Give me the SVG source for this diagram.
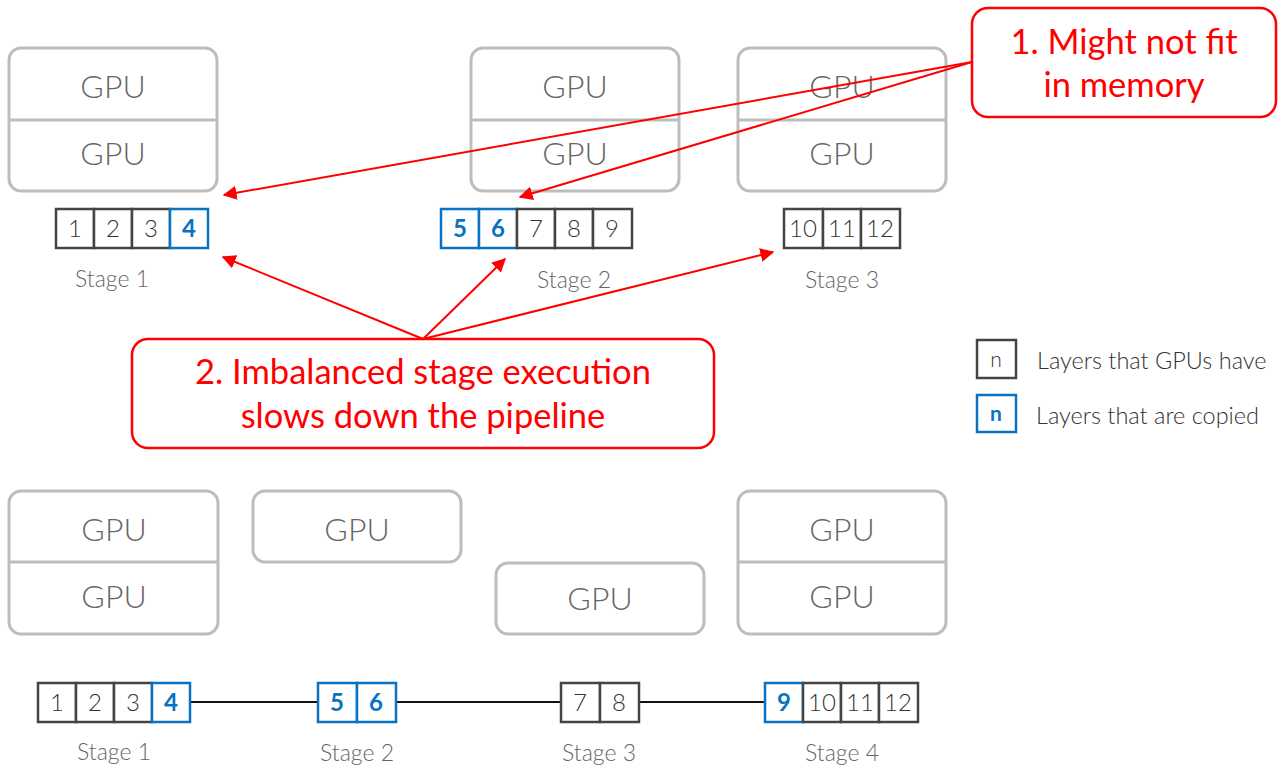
<svg xmlns="http://www.w3.org/2000/svg" width="1278" height="768" viewBox="0 0 1278 768">
  <style>
    .gpu { fill: #fff; stroke: #bdbdbd; stroke-width: 3; }
    .div { stroke: #bdbdbd; stroke-width: 3; }
    .gt { font-family: Lato, "Liberation Sans", sans-serif; font-size: 32px; fill: #666; text-anchor: middle; font-weight: 300; }
    .cell { fill: #fff; stroke: #444; stroke-width: 2.5; }
    .bcell { fill: #fff; stroke: #0a72c2; stroke-width: 2.5; }
    .n { font-family: Lato, "Liberation Sans", sans-serif; font-size: 24px; fill: #333; text-anchor: middle; font-weight: 300; }
    .bn { font-family: Lato, "Liberation Sans", sans-serif; font-size: 24px; fill: #0a72c2; text-anchor: middle; font-weight: 700; }
    .st { font-family: Lato, "Liberation Sans", sans-serif; font-size: 23px; fill: #666; text-anchor: middle; font-weight: 300; }
    .lg { font-family: Lato, "Liberation Sans", sans-serif; font-size: 23.5px; fill: #333; font-weight: 300; }
    .co { fill: #fff; stroke: #ff0000; stroke-width: 2.5; }
    .ct { font-family: Lato, "Liberation Sans", sans-serif; font-size: 34.5px; fill: #ff0000; text-anchor: middle; }
    .ar { stroke: #ff0000; stroke-width: 2; fill: none; marker-end: url(#ah); }
    .ln { stroke: #111; stroke-width: 2; }
  </style>
  <defs>
    <marker id="ah" viewBox="0 0 10 10" refX="9" refY="5" markerWidth="7" markerHeight="7" markerUnits="strokeWidth" orient="auto">
      <path d="M0,0 L10,5 L0,10 z" fill="#ff0000"/>
    </marker>
  </defs>

  <!-- top row: GPU groups -->
  <g id="top-gpu-1">
    <rect class="gpu" x="9" y="48" width="208" height="143" rx="12"/>
    <line class="div" x1="9" y1="120" x2="217" y2="120"/>
    <text class="gt" x="113" y="98">GPU</text>
    <text class="gt" x="113" y="165">GPU</text>
  </g>
  <g id="top-gpu-2">
    <rect class="gpu" x="471" y="48" width="208" height="143" rx="12"/>
    <line class="div" x1="471" y1="120" x2="679" y2="120"/>
    <text class="gt" x="575" y="98">GPU</text>
    <text class="gt" x="575" y="165">GPU</text>
  </g>
  <g id="top-gpu-3">
    <rect class="gpu" x="738" y="48" width="208" height="143" rx="12"/>
    <line class="div" x1="738" y1="120" x2="946" y2="120"/>
    <text class="gt" x="842" y="98">GPU</text>
    <text class="gt" x="842" y="165">GPU</text>
  </g>

  <!-- top row: layer strips -->
  <g id="top-stage-1">
    <rect class="cell" x="56" y="209" width="38" height="39"/>
    <rect class="cell" x="94" y="209" width="38" height="39"/>
    <rect class="cell" x="132" y="209" width="38" height="39"/>
    <rect class="bcell" x="170" y="209" width="38" height="39"/>
    <text class="n" x="75" y="237">1</text>
    <text class="n" x="113" y="237">2</text>
    <text class="n" x="151" y="237">3</text>
    <text class="bn" x="189" y="237">4</text>
    <text class="st" x="112" y="287">Stage 1</text>
  </g>
  <g id="top-stage-2">
    <rect class="bcell" x="441" y="209" width="38" height="39"/>
    <rect class="bcell" x="479" y="209" width="38" height="39"/>
    <rect class="cell" x="517" y="209" width="38" height="39"/>
    <rect class="cell" x="555" y="209" width="38" height="39"/>
    <rect class="cell" x="593" y="209" width="39" height="39"/>
    <text class="bn" x="460" y="237">5</text>
    <text class="bn" x="498" y="237">6</text>
    <text class="n" x="536" y="237">7</text>
    <text class="n" x="574" y="237">8</text>
    <text class="n" x="612" y="237">9</text>
    <text class="st" x="574" y="288">Stage 2</text>
  </g>
  <g id="top-stage-3">
    <rect class="cell" x="784" y="209" width="39" height="39"/>
    <rect class="cell" x="823" y="209" width="38" height="39"/>
    <rect class="cell" x="861" y="209" width="39" height="39"/>
    <text class="n" x="803" y="237">10</text>
    <text class="n" x="842" y="237">11</text>
    <text class="n" x="880" y="237">12</text>
    <text class="st" x="842" y="288">Stage 3</text>
  </g>

  <!-- legend -->
  <g id="legend">
    <rect class="cell" x="977" y="340" width="39" height="38"/>
    <text class="n" x="996" y="367" style="font-size:21px">n</text>
    <text class="lg" x="1037" y="369">Layers that GPUs have</text>
    <rect class="bcell" x="977" y="395" width="39" height="37"/>
    <text class="bn" x="996" y="421" style="font-size:21px">n</text>
    <text class="lg" x="1036" y="424">Layers that are copied</text>
  </g>

  <!-- bottom row: GPU groups -->
  <g id="bottom-gpu-1">
    <rect class="gpu" x="9" y="491" width="209" height="143" rx="12"/>
    <line class="div" x1="9" y1="562" x2="218" y2="562"/>
    <text class="gt" x="114" y="541">GPU</text>
    <text class="gt" x="114" y="608">GPU</text>
  </g>
  <g id="bottom-gpu-2">
    <rect class="gpu" x="253" y="491" width="208" height="71" rx="12"/>
    <text class="gt" x="357" y="541">GPU</text>
  </g>
  <g id="bottom-gpu-3">
    <rect class="gpu" x="496" y="563" width="208" height="71" rx="12"/>
    <text class="gt" x="600" y="610">GPU</text>
  </g>
  <g id="bottom-gpu-4">
    <rect class="gpu" x="738" y="491" width="208" height="143" rx="12"/>
    <line class="div" x1="738" y1="562" x2="946" y2="562"/>
    <text class="gt" x="842" y="541">GPU</text>
    <text class="gt" x="842" y="608">GPU</text>
  </g>

  <!-- bottom row: pipeline links -->
  <g id="pipeline-links">
    <line class="ln" x1="190" y1="702" x2="318" y2="702"/>
    <line class="ln" x1="396" y1="702" x2="561" y2="702"/>
    <line class="ln" x1="639" y1="702" x2="765" y2="702"/>
  </g>

  <!-- bottom row: layer strips -->
  <g id="bottom-stage-1">
    <rect class="cell" x="38" y="683" width="38" height="39"/>
    <rect class="cell" x="76" y="683" width="38" height="39"/>
    <rect class="cell" x="114" y="683" width="38" height="39"/>
    <rect class="bcell" x="152" y="683" width="38" height="39"/>
    <text class="n" x="57" y="711">1</text>
    <text class="n" x="95" y="711">2</text>
    <text class="n" x="133" y="711">3</text>
    <text class="bn" x="171" y="711">4</text>
    <text class="st" x="114" y="760">Stage 1</text>
  </g>
  <g id="bottom-stage-2">
    <rect class="bcell" x="318" y="683" width="39" height="39"/>
    <rect class="bcell" x="357" y="683" width="39" height="39"/>
    <text class="bn" x="337" y="711">5</text>
    <text class="bn" x="376" y="711">6</text>
    <text class="st" x="357" y="761">Stage 2</text>
  </g>
  <g id="bottom-stage-3">
    <rect class="cell" x="561" y="683" width="39" height="39"/>
    <rect class="cell" x="600" y="683" width="39" height="39"/>
    <text class="n" x="580" y="711">7</text>
    <text class="n" x="619" y="711">8</text>
    <text class="st" x="599" y="761">Stage 3</text>
  </g>
  <g id="bottom-stage-4">
    <rect class="bcell" x="765" y="683" width="38" height="39"/>
    <rect class="cell" x="803" y="683" width="38" height="39"/>
    <rect class="cell" x="841" y="683" width="38" height="39"/>
    <rect class="cell" x="879" y="683" width="39" height="39"/>
    <text class="bn" x="784" y="711">9</text>
    <text class="n" x="822" y="711">10</text>
    <text class="n" x="860" y="711">11</text>
    <text class="n" x="898" y="711">12</text>
    <text class="st" x="842" y="761">Stage 4</text>
  </g>

  <!-- callout arrows -->
  <g id="connectors">
    <line class="ar" x1="972" y1="62" x2="224" y2="195"/>
    <line class="ar" x1="972" y1="62" x2="520" y2="197"/>
    <line class="ar" x1="423" y1="339" x2="223" y2="257"/>
    <line class="ar" x1="423" y1="339" x2="505" y2="259"/>
    <line class="ar" x1="423" y1="339" x2="773" y2="252"/>
  </g>

  <!-- callouts -->
  <g id="callout-memory">
    <rect class="co" x="972" y="8" width="304" height="109" rx="16"/>
    <text class="ct" x="1124" y="54">1. Might not fit</text>
    <text class="ct" x="1124" y="97">in memory</text>
  </g>
  <g id="callout-imbalance">
    <rect class="co" x="132" y="339" width="582" height="109" rx="16"/>
    <text class="ct" x="423" y="384">2. Imbalanced stage execution</text>
    <text class="ct" x="423" y="428">slows down the pipeline</text>
  </g>
</svg>
